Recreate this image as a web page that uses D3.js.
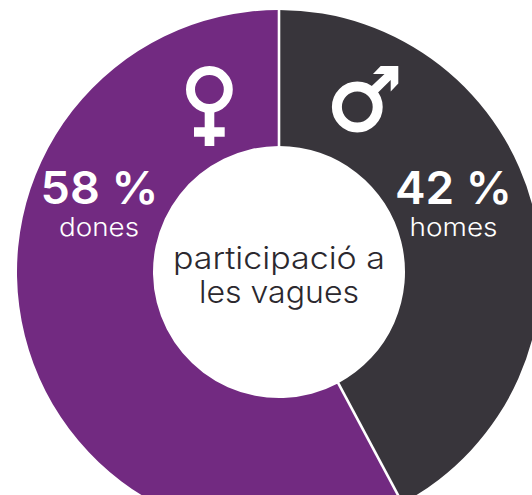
<!DOCTYPE html>
<html><head><meta charset="utf-8"><script src="https://cdn.jsdelivr.net/npm/d3@7"></script>
<style>html,body{margin:0;background:#fff}svg{display:block}text{font-family:Inter,"Open Sans",sans-serif;fill:#fff}</style></head>
<body><svg id="c" width="532" height="495"></svg>
<script>
const categories=["homes","dones"];
const values=[42.2,57.8];
const labels=["42 %","58 %"];
const colors=["#38353b","#722a81"];
const centerLines=["participació a","les vagues"];
const svg=d3.select("#c");
const cx=279,cy=272,R=262,r=126;
const g=svg.append("g").attr("transform",`translate(${cx},${cy})`);
const pie=d3.pie().sort(null)(values);
const arc=d3.arc().innerRadius(r).outerRadius(R);
g.selectAll("path").data(pie).join("path").attr("d",arc).attr("fill",(d,i)=>colors[i]);
// separators
const radial=a=>[Math.sin(a),-Math.cos(a)];
[0,pie[0].endAngle].forEach(a=>{const [x,y]=radial(a);
 g.append("line").attr("x1",x*(r-1)).attr("y1",y*(r-1)).attr("x2",x*(R+1)).attr("y2",y*(R+1)).attr("stroke","#fff").attr("stroke-width",2.6);});
const big=[[453.5,204,117],[99.5,204,118]],small=[[453.5,236,88],[99,236,80]];
categories.forEach((c,i)=>{
 svg.append("text").attr("x",big[i][0]).attr("y",big[i][1]).attr("text-anchor","middle").attr("font-size",45).attr("font-weight",600).attr("textLength",big[i][2]).attr("lengthAdjust","spacingAndGlyphs").text(labels[i]);
 svg.append("text").attr("x",small[i][0]).attr("y",small[i][1]).attr("text-anchor","middle").attr("font-size",25).attr("font-weight",300).attr("textLength",small[i][2]).attr("lengthAdjust","spacingAndGlyphs").text(c);
});
[[279,269,212],[279,303,160]].forEach((p,i)=>{
 svg.append("text").attr("x",p[0]).attr("y",p[1]).attr("text-anchor","middle").attr("font-size",31).attr("font-weight",300).attr("textLength",p[2]).attr("lengthAdjust","spacingAndGlyphs").style("fill","#2b282e").text(centerLines[i]);
});
// female symbol
svg.append("circle").attr("cx",209.4).attr("cy",89.5).attr("r",18.9).attr("fill","none").attr("stroke","#fff").attr("stroke-width",9);
svg.append("path").attr("fill","#fff").attr("d","M204.7 110H214.3V127.3H224.7V136.7H214.3V146H204.7V136.7H194V127.3H204.7Z");
// male symbol
svg.append("circle").attr("cx",357.3).attr("cy",107).attr("r",20.4).attr("fill","none").attr("stroke","#fff").attr("stroke-width",10);
svg.append("path").attr("fill","#fff").attr("d","M373 74L380.7 66H398.3V83.5L390.7 91.5V80L374.5 96L368 89.5L384.5 74Z");
</script></body></html>
